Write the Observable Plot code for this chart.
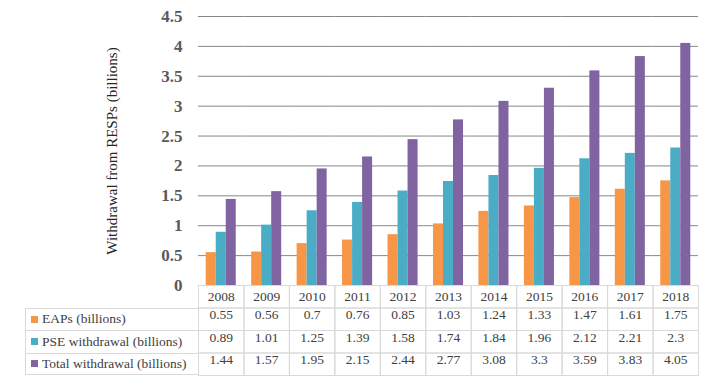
<!DOCTYPE html>
<html><head><meta charset="utf-8">
<script src="https://cdn.jsdelivr.net/npm/d3@7"></script>
<script src="https://cdn.jsdelivr.net/npm/@observablehq/plot@0.6"></script>
<style>
body{margin:0;background:#fff;}
#wrap{position:relative;width:715px;height:384px;overflow:hidden;font-family:"Liberation Serif","Times New Roman","DejaVu Serif",serif;}
.leg{position:absolute;left:25px;width:173px;height:22.5px;box-sizing:border-box;border-top:1px solid #d9d9d9;border-left:1px solid #d9d9d9;font-family:"Liberation Serif","Times New Roman","DejaVu Serif",serif;font-size:13.5px;color:#404040;display:flex;align-items:center;white-space:nowrap;}
.leg.last{border-bottom:1px solid #d9d9d9;}
.sw{display:inline-block;width:7px;height:7px;margin-left:5px;margin-right:4px;}
</style></head><body><div id="wrap"></div>
<script>
const years = [2008, 2009, 2010, 2011, 2012, 2013, 2014, 2015, 2016, 2017, 2018];
const series = ["EAPs (billions)", "PSE withdrawal (billions)", "Total withdrawal (billions)"];
const eaps = [0.55, 0.56, 0.7, 0.76, 0.85, 1.03, 1.24, 1.33, 1.47, 1.61, 1.75];
const pse = [0.89, 1.01, 1.25, 1.39, 1.58, 1.74, 1.84, 1.96, 2.12, 2.21, 2.3];
const total = [1.44, 1.57, 1.95, 2.15, 2.44, 2.77, 3.08, 3.3, 3.59, 3.83, 4.05];
const colors = ["#F79646", "#4BACC6", "#8064A2"];
const yTicks = [0, 0.5, 1, 1.5, 2, 2.5, 3, 3.5, 4, 4.5];
const yTitle = "Withdrawal from RESPs (billions)";

const valuesBySeries = [eaps, pse, total];
const data = series.flatMap((s, i) => years.map((y, j) => ({year: y, series: s, value: valuesBySeries[i][j]})));

const W = 715, H = 384, mL = 198, mR = 17, mT = 16, mB = 99, rowH = 22.5;
const plotH = H - mT - mB;
const font = '"Liberation Serif", "Times New Roman", "DejaVu Serif", serif';

const frames = [0, 1, 2, 3].map(k => Plot.frame({stroke: "#d9d9d9", insetTop: plotH + k * rowH, insetBottom: -(k + 1) * rowH}));
const texts = series.map((s, i) => Plot.text(data.filter(d => d.series === s), {
  fx: "year", text: d => `${d.value}`, frameAnchor: "bottom", dy: rowH * (i + 1.5),
  fontSize: 13.5, fill: "#404040"
}));

const chart = Plot.plot({
  width: W, height: H, marginLeft: mL, marginRight: mR, marginTop: mT, marginBottom: mB,
  style: {fontFamily: font, background: "#fff"},
  fx: {domain: years, padding: 0, round: false, label: null},
  x: {domain: series, paddingInner: 0, paddingOuter: 0.77, round: false, axis: null},
  y: {domain: [0, 4.5]},
  color: {domain: series, range: colors},
  marks: [
    Plot.ruleY(yTicks.filter(d => d > 0), {stroke: "#878787", strokeWidth: 1}),
    ...frames,
    Plot.barY(data, {fx: "year", x: "series", y: "value", fill: "series"}),
    Plot.axisY({ticks: yTicks, tickSize: 0, tickPadding: 16, tickFormat: d => `${d}`, fontSize: 17, fontWeight: "bold", fill: "#595959", label: null}),
    Plot.axisY({ticks: [], label: yTitle, labelAnchor: "center", labelArrow: "none", labelOffset: 92, fontSize: 15, fill: "#262626"}),
    Plot.axisFx({anchor: "bottom", tickSize: 0, tickPadding: 6, tickFormat: d => `${d}`, fontSize: 13.5, fill: "#404040", label: null}),
    ...texts
  ]
});
chart.style.fontFamily = font;
const wrap = document.getElementById("wrap");
wrap.appendChild(chart);

series.forEach((s, i) => {
  const d = document.createElement("div");
  d.className = "leg" + (i === series.length - 1 ? " last" : "");
  d.style.top = (H - mB + rowH * (i + 1)) + "px";
  const sw = document.createElement("span");
  sw.className = "sw";
  sw.style.background = colors[i];
  d.appendChild(sw);
  d.appendChild(document.createTextNode(s));
  wrap.appendChild(d);
});
</script></body></html>
